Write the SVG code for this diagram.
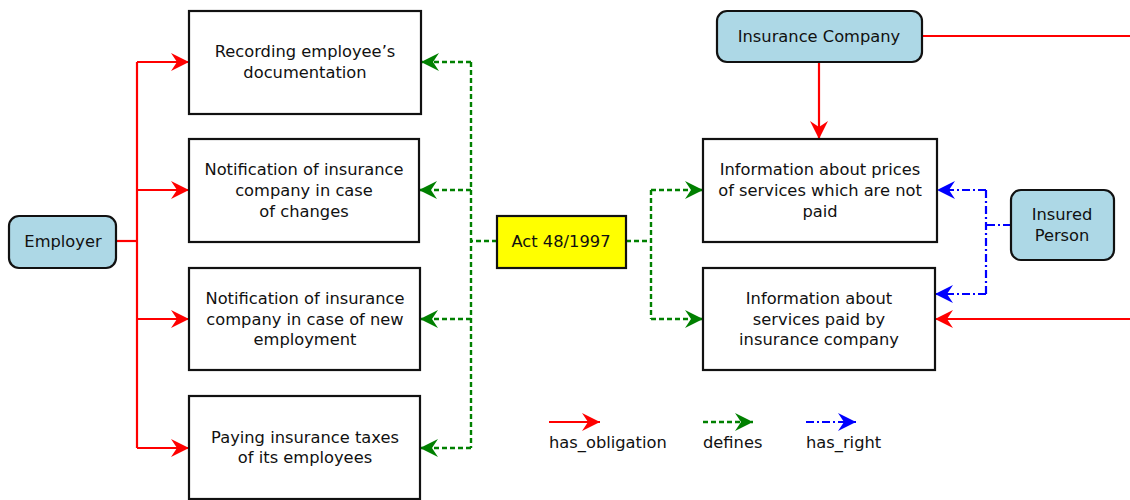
<svg xmlns="http://www.w3.org/2000/svg" width="1130" height="500" viewBox="0 0 1130 500">
<style>
text{font-family:"DejaVu Sans","Liberation Sans",sans-serif;font-size:16.3px;fill:#111;text-anchor:middle}
.box{fill:#fff;stroke:#111;stroke-width:2.2}
.actor{fill:#add8e6;stroke:#111;stroke-width:2.2}
.act{fill:#ffff00;stroke:#111;stroke-width:2.2}
.red{fill:none;stroke:#ff0000;stroke-width:2.2}
.green{fill:none;stroke:#008000;stroke-width:2.4;stroke-dasharray:5,3}
.blue{fill:none;stroke:#0000ff;stroke-width:2.2;stroke-dasharray:8,3,2,3}
</style>
<defs>
<marker id="ar" markerUnits="userSpaceOnUse" markerWidth="20" markerHeight="18" refX="18" refY="9" orient="auto"><path d="M0,0 L18,9 L0,18 L6,9 z" fill="#ff0000"/></marker>
<marker id="ag" markerUnits="userSpaceOnUse" markerWidth="20" markerHeight="18" refX="18" refY="9" orient="auto"><path d="M0,0 L18,9 L0,18 L6,9 z" fill="#008000"/></marker>
<marker id="ab" markerUnits="userSpaceOnUse" markerWidth="20" markerHeight="18" refX="18" refY="9" orient="auto"><path d="M0,0 L18,9 L0,18 L6,9 z" fill="#0000ff"/></marker>
</defs>
<g id="connectors">
<path class="red" d="M116,241 H137"/>
<path class="red" d="M137,62 V448"/>
<path class="red" d="M137,62 H189" marker-end="url(#ar)"/>
<path class="red" d="M137,190 H189" marker-end="url(#ar)"/>
<path class="red" d="M137,319 H189" marker-end="url(#ar)"/>
<path class="red" d="M137,448 H189" marker-end="url(#ar)"/>
<path class="green" d="M497,241 H471"/>
<path class="green" d="M471,62 V448"/>
<path class="green" d="M471,62 H421" marker-end="url(#ag)"/>
<path class="green" d="M471,190 H419" marker-end="url(#ag)"/>
<path class="green" d="M471,319 H420" marker-end="url(#ag)"/>
<path class="green" d="M471,448 H420" marker-end="url(#ag)"/>
<path class="green" d="M626,241 H651"/>
<path class="green" d="M651,190 V319"/>
<path class="green" d="M651,190 H703" marker-end="url(#ag)"/>
<path class="green" d="M651,319 H703" marker-end="url(#ag)"/>
<path class="red" d="M819,62 V139" marker-end="url(#ar)"/>
<path class="red" d="M922,36 H1130"/>
<path class="red" d="M1130,319 H935" marker-end="url(#ar)"/>
<path class="blue" d="M1011,225 H986"/>
<path class="blue" d="M986,190 V294"/>
<path class="blue" d="M986,190 H937" marker-end="url(#ab)"/>
<path class="blue" d="M986,294 H935" marker-end="url(#ab)"/>
</g>
<g id="employer"><rect class="actor" x="9" y="216" width="107" height="52" rx="10"/><text x="63" y="247">Employer</text></g>
<g id="recording"><rect class="box" x="189" y="11" width="232" height="103"/><text x="305" y="57">Recording employee’s</text><text x="305" y="78">documentation</text></g>
<g id="notif-changes"><rect class="box" x="189" y="139" width="230" height="103"/><text x="304" y="175">Notification of insurance</text><text x="304" y="196">company in case</text><text x="304" y="217">of changes</text></g>
<g id="notif-new"><rect class="box" x="189" y="268" width="231" height="102"/><text x="305" y="304">Notification of insurance</text><text x="305" y="325">company in case of new</text><text x="305" y="345">employment</text></g>
<g id="paying"><rect class="box" x="189" y="396" width="231" height="103"/><text x="305" y="443">Paying insurance taxes</text><text x="305" y="463">of its employees</text></g>
<g id="act"><rect class="act" x="497" y="216" width="129" height="52"/><text x="561" y="247">Act 48/1997</text></g>
<g id="insurance-company"><rect class="actor" x="717" y="11" width="205" height="51" rx="10"/><text x="819" y="42">Insurance Company</text></g>
<g id="info-prices"><rect class="box" x="703" y="139" width="234" height="103"/><text x="820" y="175">Information about prices</text><text x="820" y="196">of services which are not</text><text x="820" y="217">paid</text></g>
<g id="info-services"><rect class="box" x="703" y="268" width="232" height="102"/><text x="819" y="304">Information about</text><text x="819" y="325">services paid by</text><text x="819" y="345">insurance company</text></g>
<g id="insured-person"><rect class="actor" x="1011" y="190" width="103" height="70" rx="10"/><text x="1062" y="220">Insured</text><text x="1062" y="241">Person</text></g>
<g id="legend">
<path class="red" d="M549,422 H600" marker-end="url(#ar)"/>
<path class="green" d="M703,422 H753" marker-end="url(#ag)"/>
<path class="blue" d="M806,422 H856" marker-end="url(#ab)"/>
<text x="549" y="448" style="text-anchor:start">has_obligation</text>
<text x="703" y="448" style="text-anchor:start">defines</text>
<text x="806" y="448" style="text-anchor:start">has_right</text>
</g>
</svg>
